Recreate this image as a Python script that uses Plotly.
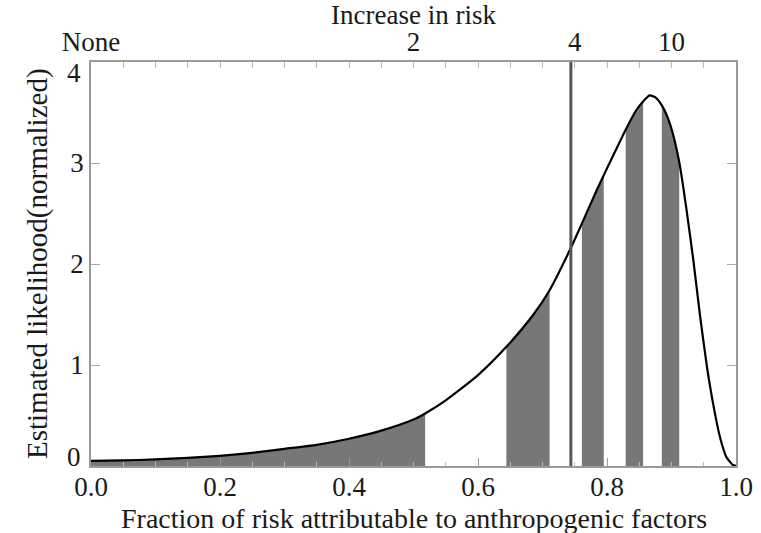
import plotly.graph_objects as go

# Curve: fraction of risk attributable (x) vs estimated likelihood (y)
frac = [0.00, 0.05, 0.10, 0.15, 0.20, 0.25, 0.30, 0.35, 0.40, 0.45, 0.50, 0.518,
        0.55, 0.60, 0.644, 0.686, 0.711, 0.744, 0.761, 0.784, 0.795, 0.807, 0.829,
        0.845, 0.856, 0.866, 0.875, 0.885, 0.898, 0.912, 0.923, 0.934, 0.944, 0.955,
        0.965, 0.975, 0.985, 0.995, 1.00]
likelihood = [0.05, 0.055, 0.065, 0.08, 0.10, 0.13, 0.17, 0.21, 0.27, 0.35, 0.46, 0.52,
              0.65, 0.90, 1.18, 1.50, 1.74, 2.16, 2.40, 2.73, 2.88, 3.04, 3.33,
              3.52, 3.61, 3.67, 3.65, 3.57, 3.38, 3.01, 2.55, 2.03, 1.50, 0.98,
              0.60, 0.29, 0.09, 0.01, 0.0]

# Shaded bands (start, end in fraction units)
band_starts = [0.0, 0.644, 0.761, 0.829, 0.885]
band_ends = [0.518, 0.711, 0.795, 0.856, 0.912]

# Vertical marker
marker_x = 0.744

# Axis ticks
x_ticks = [0.0, 0.2, 0.4, 0.6, 0.8, 1.0]
x_ticklabels = ["0.0", "0.2", "0.4", "0.6", "0.8", "1.0"]
y_ticks = [0, 1, 2, 3, 4]
y_ticklabels = ["0", "1", "2", "3", "4"]
top_ticks = [0.0, 0.5, 0.75, 0.9]
top_ticklabels = ["None", "2", "4", "10"]

FONT = "Liberation Serif"
FILL = "#777777"
TXT = "#1a1a1a"
FS = 27

fig = go.Figure()

for s, e in zip(band_starts, band_ends):
    bx = [x for x in frac if s <= x <= e]
    by = [y for x, y in zip(frac, likelihood) if s <= x <= e]
    fig.add_trace(go.Scatter(x=bx, y=by, mode="lines", fill="tozeroy",
                             fillcolor=FILL, line=dict(width=0, color=FILL),
                             hoverinfo="skip", showlegend=False))

fig.add_trace(go.Scatter(x=frac, y=likelihood, mode="lines",
                         line=dict(color="black", width=2.2, shape="spline", smoothing=0.6),
                         showlegend=False))

# Invisible trace to activate the top axis
fig.add_trace(go.Scatter(x=[0, 1], y=[0, 0], xaxis="x2", mode="lines",
                         line=dict(width=0), hoverinfo="skip", showlegend=False))

fig.add_shape(type="line", x0=marker_x, x1=marker_x, y0=0, y1=1,
              xref="x", yref="paper", line=dict(color="#555555", width=3))

# Axis titles as annotations for precise placement
fig.add_annotation(text="Increase in risk", xref="paper", yref="paper", x=0.5, y=1,
                   yshift=47, showarrow=False, yanchor="middle",
                   font=dict(family=FONT, size=27, color=TXT))
fig.add_annotation(text="Fraction of risk attributable to anthropogenic factors",
                   xref="paper", yref="paper", x=0.5, y=0, yshift=-52,
                   showarrow=False, yanchor="middle",
                   font=dict(family=FONT, size=28, color=TXT))
fig.add_annotation(text="Estimated likelihood(normalized)", xref="paper", yref="paper",
                   x=0, y=0.5, xshift=-54, textangle=-90, showarrow=False,
                   xanchor="center", yanchor="middle",
                   font=dict(family=FONT, size=29, color=TXT))

# End labels of the y axis sit slightly inside the frame, as in the original
for val, lab, shift in [(y_ticks[0], y_ticklabels[0], 9), (y_ticks[-1], y_ticklabels[-1], -11)]:
    fig.add_annotation(text=lab, xref="paper", yref="y", x=0, y=val, xshift=-8,
                       yshift=shift, xanchor="right", yanchor="middle", showarrow=False,
                       font=dict(family=FONT, size=FS, color=TXT))

fig.update_layout(
    width=761, height=533,
    margin=dict(l=91, r=25, t=62, b=67),
    paper_bgcolor="white", plot_bgcolor="white",
    font=dict(family=FONT, size=FS, color=TXT),
    xaxis=dict(range=[0, 1], tickvals=x_ticks, ticktext=x_ticklabels,
               ticks="inside", ticklen=8, tickcolor="#999999", ticklabelstandoff=-4,
               minor=dict(dtick=0.05, tick0=0, ticks="inside", ticklen=4, tickcolor="#bbbbbb"),
               showline=True, linecolor="#999999", linewidth=1.5,
               showgrid=False, zeroline=False, automargin=False),
    xaxis2=dict(range=[0, 1], overlaying="x", side="top", anchor="y",
                tickvals=top_ticks, ticktext=top_ticklabels,
                ticks="inside", ticklen=6, tickcolor="#bbbbbb", ticklabelstandoff=-2,
                minor=dict(dtick=0.05, tick0=0, ticks="inside", ticklen=6, tickcolor="#bbbbbb"),
                showline=True, linecolor="#999999", linewidth=1.5,
                showgrid=False, zeroline=False, automargin=False),
    yaxis=dict(range=[0, 4.0], tickvals=y_ticks[1:-1], ticktext=y_ticklabels[1:-1],
               ticks="inside", ticklen=9, tickcolor="#aaaaaa",
               showline=True, linecolor="#999999", linewidth=1.5, mirror="ticks",
               showgrid=False, zeroline=False, automargin=False),
)

fig.write_html("out.html", config={"displayModeBar": False},
               post_script="document.body.style.margin='0';")
